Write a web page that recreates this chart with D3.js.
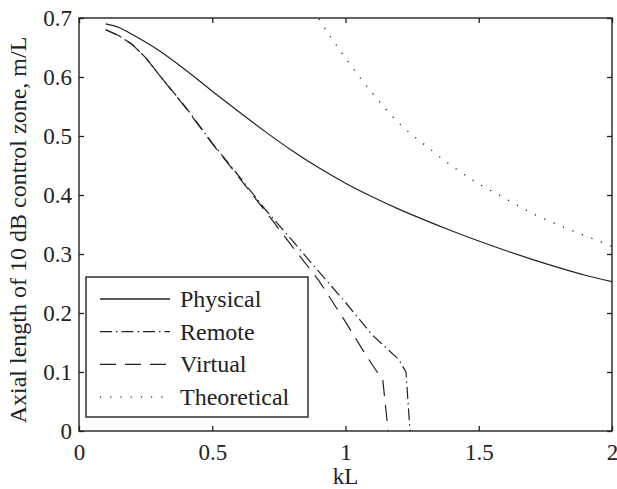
<!DOCTYPE html>
<html>
<head>
<meta charset="utf-8">
<script src="https://cdn.jsdelivr.net/npm/d3@7"></script>
<style>
  body { margin: 0; background: #fff; }
  text { font-family: "Liberation Serif", "DejaVu Serif", serif; fill: #222; }
</style>
</head>
<body>
<div id="chart"></div>
<script>
// values
const physicalX = [0.1, 0.15, 0.2, 0.3, 0.4, 0.5, 0.6, 0.7, 0.8, 0.9, 1.0, 1.1, 1.2, 1.3, 1.4, 1.5, 1.6, 1.7, 1.8, 1.9, 2.0];
const physicalY = [0.690, 0.684, 0.672, 0.645, 0.612, 0.576, 0.541, 0.507, 0.475, 0.446, 0.420, 0.397, 0.376, 0.357, 0.339, 0.322, 0.306, 0.291, 0.277, 0.264, 0.253];

const remoteX = [0.1, 0.15, 0.2, 0.25, 0.3, 0.4, 0.5, 0.6, 0.7, 0.8, 0.9, 1.0, 1.1, 1.2, 1.227, 1.242];
const remoteY = [0.680, 0.670, 0.655, 0.633, 0.604, 0.549, 0.488, 0.432, 0.375, 0.323, 0.270, 0.218, 0.163, 0.121, 0.100, 0.0];

const virtualX = [0.1, 0.15, 0.2, 0.25, 0.3, 0.4, 0.5, 0.6, 0.7, 0.8, 0.9, 1.0, 1.08, 1.14, 1.16];
const virtualY = [0.680, 0.670, 0.655, 0.633, 0.604, 0.548, 0.487, 0.430, 0.372, 0.313, 0.255, 0.185, 0.126, 0.086, 0.0];

const theoryX = [0.9, 0.95, 1.0, 1.1, 1.2, 1.3, 1.4, 1.5, 1.6, 1.7, 1.8, 1.9, 2.0];
const theoryY = [0.698, 0.664, 0.632, 0.573, 0.522, 0.484, 0.449, 0.419, 0.394, 0.369, 0.349, 0.331, 0.313];

const xTicks = [0, 0.5, 1, 1.5, 2];
const yTicks = [0, 0.1, 0.2, 0.3, 0.4, 0.5, 0.6, 0.7];
const seriesNames = ["Physical", "Remote", "Virtual", "Theoretical"];

const width = 617, height = 489;
const margin = {top: 18, right: 5, bottom: 58, left: 79};
const w = width - margin.left - margin.right;
const h = height - margin.top - margin.bottom;

const svg = d3.select("#chart").append("svg")
    .attr("width", width)
    .attr("height", height);

const g = svg.append("g")
    .attr("transform", "translate(" + margin.left + "," + margin.top + ")");

const x = d3.scaleLinear().domain([0, 2]).range([0, w]);
const y = d3.scaleLinear().domain([0, 0.7]).range([h, 0]);

const dashes = {
    "Physical": null,
    "Remote": "12,4,1.5,4",
    "Virtual": "16,9",
    "Theoretical": "1.2,9"
};

const series = [
    {name: "Physical", xs: physicalX, ys: physicalY, smooth: true},
    {name: "Remote", xs: remoteX, ys: remoteY, smooth: false},
    {name: "Virtual", xs: virtualX, ys: virtualY, smooth: false},
    {name: "Theoretical", xs: theoryX, ys: theoryY, smooth: true}
];

const smoothLine = d3.line()
    .x(d => x(d[0]))
    .y(d => y(d[1]))
    .curve(d3.curveMonotoneX);

const straightLine = d3.line()
    .x(d => x(d[0]))
    .y(d => y(d[1]));

g.append("defs").append("clipPath").attr("id", "clip")
  .append("rect").attr("width", w).attr("height", h);

g.append("g").attr("clip-path", "url(#clip)")
  .selectAll("path")
  .data(series)
  .enter()
  .append("path")
  .attr("fill", "none")
  .attr("stroke", "#222")
  .attr("stroke-width", d => d.name == "Theoretical" ? 1.3 : 1.2)
  .attr("stroke-dasharray", d => dashes[d.name])
  .attr("d", d => {
      let pts = d.xs.map((v, i) => [v, d.ys[i]]);
      return d.smooth ? smoothLine(pts) : straightLine(pts);
  });

// axes, ticks pointing inward
const tickFmt = d => d === 0 ? "0" : String(d);

g.append("g")
    .attr("transform", "translate(0," + h + ")")
    .call(d3.axisBottom(x).tickValues(xTicks).tickFormat(tickFmt).tickSizeInner(-5).tickSizeOuter(0).tickPadding(13));

g.append("g")
    .call(d3.axisLeft(y).tickValues(yTicks).tickFormat(tickFmt).tickSizeInner(-5).tickSizeOuter(0).tickPadding(7));

g.append("g")
    .call(d3.axisTop(x).tickValues(xTicks).tickFormat("").tickSizeInner(-5).tickSizeOuter(0));

g.append("g")
    .attr("transform", "translate(" + w + ",0)")
    .call(d3.axisRight(y).tickValues(yTicks).tickFormat("").tickSizeInner(-5).tickSizeOuter(0));

g.selectAll(".tick line").attr("stroke", "#222").attr("stroke-width", 1.3);
g.selectAll(".domain").remove();
g.selectAll(".tick text")
    .attr("font-family", "Liberation Serif")
    .attr("font-size", "23px")
    .attr("fill", "#222");

g.append("rect")
    .attr("width", w)
    .attr("height", h)
    .attr("fill", "none")
    .attr("stroke", "#222")
    .attr("stroke-width", 1.4);

// axis titles
svg.append("text")
    .attr("x", margin.left + w / 2)
    .attr("y", 484)
    .attr("text-anchor", "middle")
    .attr("font-size", "23px")
    .text("kL");

svg.append("text")
    .attr("transform", "translate(26,230) rotate(-90)")
    .attr("text-anchor", "middle")
    .attr("font-size", "24px")
    .text("Axial length of 10 dB control zone, m/L");

// legend
const legend = svg.append("g").attr("transform", "translate(86,277)");

legend.append("rect")
    .attr("width", 222)
    .attr("height", 140)
    .attr("fill", "#fff")
    .attr("stroke", "#222")
    .attr("stroke-width", 1.4);

const item = legend.selectAll(".item")
    .data(seriesNames)
    .enter()
    .append("g")
    .attr("class", "item")
    .attr("transform", (d, i) => "translate(0," + (22 + i * 32.7) + ")");

item.append("line")
    .attr("x1", 14).attr("x2", 84)
    .attr("y1", 0).attr("y2", 0)
    .attr("stroke", "#222")
    .attr("stroke-width", d => d == "Physical" ? 1.4 : 1.2)
    .attr("stroke-dasharray", d => dashes[d]);

item.append("text")
    .attr("x", 94)
    .attr("y", 8)
    .attr("font-size", "24px")
    .text(d => d);
</script>
</body>
</html>
